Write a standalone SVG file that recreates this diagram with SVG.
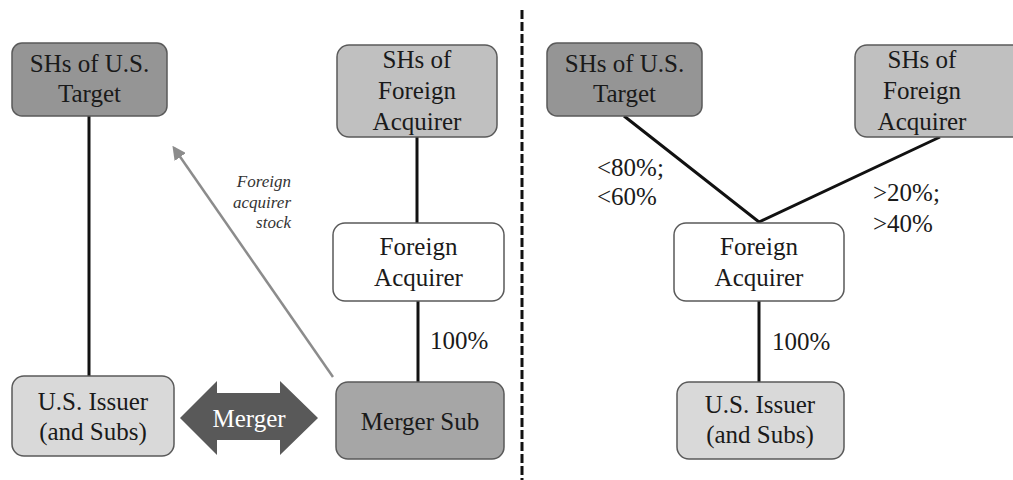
<svg xmlns="http://www.w3.org/2000/svg" width="1013" height="480" viewBox="0 0 1013 480">
<defs>
<style>
.box{stroke:#5a5a5a;stroke-width:1.5}
text{font-family:'Liberation Serif','Times New Roman',Times,'DejaVu Serif',serif;font-size:25px;fill:#1a1a1a}
.t{text-anchor:middle}
.it{font-size:17px;font-style:italic;fill:#333;text-anchor:end}
.c{stroke:#111;stroke-width:3;fill:none}
</style>
<marker id="ah" viewBox="0 0 10 10" refX="8" refY="5" markerWidth="5.5" markerHeight="5.5" orient="auto-start-reverse">
<path d="M0,0 L10,5 L0,10 z" fill="#8c8c8c"/>
</marker>
</defs>
<rect width="1013" height="480" fill="#fff"/>
<g id="connectors">
<line class="c" x1="89" y1="116" x2="89" y2="376"/>
<line class="c" x1="417" y1="137" x2="417" y2="223"/>
<line class="c" x1="418" y1="301" x2="418" y2="382"/>
<line x1="333" y1="377" x2="174" y2="148" stroke="#8c8c8c" stroke-width="2.5" marker-end="url(#ah)"/>
<polyline class="c" points="624,116 759,222 940,137"/>
<line class="c" x1="759" y1="301" x2="759" y2="382"/>
<line x1="522" y1="10" x2="522" y2="480" stroke="#111" stroke-width="3" stroke-dasharray="9 3"/>
</g>
<g id="lbl">
<text class="it" x="291" y="187">Foreign</text>
<text class="it" x="291" y="208">acquirer</text>
<text class="it" x="291" y="228">stock</text>
<text x="430" y="349">100%</text>
<text x="597" y="176">&lt;80%;</text>
<text x="597" y="205">&lt;60%</text>
<text x="873" y="201">&gt;20%;</text>
<text x="873" y="232">&gt;40%</text>
<text x="772" y="350">100%</text>
</g>
<g id="shs-us-target-l">
<rect class="box" x="12" y="43" width="155" height="73" rx="10" fill="#959595"/>
<text class="t" x="89.5" y="72">SHs of U.S.</text>
<text class="t" x="89.5" y="102">Target</text>
</g>
<g id="shs-fa-l">
<rect class="box" x="337" y="45" width="160" height="92" rx="12" fill="#c0c0c0"/>
<text class="t" x="417" y="68">SHs of</text>
<text class="t" x="417" y="99">Foreign</text>
<text class="t" x="417" y="130">Acquirer</text>
</g>
<g id="fa-l">
<rect class="box" x="333" y="223" width="171" height="78" rx="12" fill="#fff"/>
<text class="t" x="418.5" y="255">Foreign</text>
<text class="t" x="418.5" y="286">Acquirer</text>
</g>
<g id="merger-sub">
<rect class="box" x="336" y="382" width="168" height="77" rx="12" fill="#a6a6a6"/>
<text class="t" x="420" y="430">Merger Sub</text>
</g>
<g id="us-issuer-l">
<rect class="box" x="12" y="376" width="162" height="80" rx="12" fill="#d9d9d9"/>
<text class="t" x="93" y="410">U.S. Issuer</text>
<text class="t" x="93" y="440">(and Subs)</text>
</g>
<g id="merger">
<polygon points="180,418 217,381 217,393 280,393 280,381 318,418 280,455 280,440 217,440 217,455" fill="#595959"/>
<text class="t" x="249" y="427" style="fill:#fff">Merger</text>
</g>
<g id="shs-us-target-r">
<rect class="box" x="547" y="43" width="155" height="73" rx="10" fill="#959595"/>
<text class="t" x="624.5" y="72">SHs of U.S.</text>
<text class="t" x="624.5" y="102">Target</text>
</g>
<g id="shs-fa-r">
<rect class="box" x="855" y="45" width="170" height="92" rx="12" fill="#c0c0c0"/>
<text class="t" x="922" y="68">SHs of</text>
<text class="t" x="922" y="99">Foreign</text>
<text class="t" x="922" y="130">Acquirer</text>
</g>
<g id="fa-r">
<rect class="box" x="674" y="223" width="170" height="78" rx="12" fill="#fff"/>
<text class="t" x="759" y="255">Foreign</text>
<text class="t" x="759" y="286">Acquirer</text>
</g>
<g id="us-issuer-r">
<rect class="box" x="677" y="382" width="167" height="77" rx="12" fill="#d9d9d9"/>
<text class="t" x="760" y="413">U.S. Issuer</text>
<text class="t" x="760" y="443">(and Subs)</text>
</g>
</svg>
